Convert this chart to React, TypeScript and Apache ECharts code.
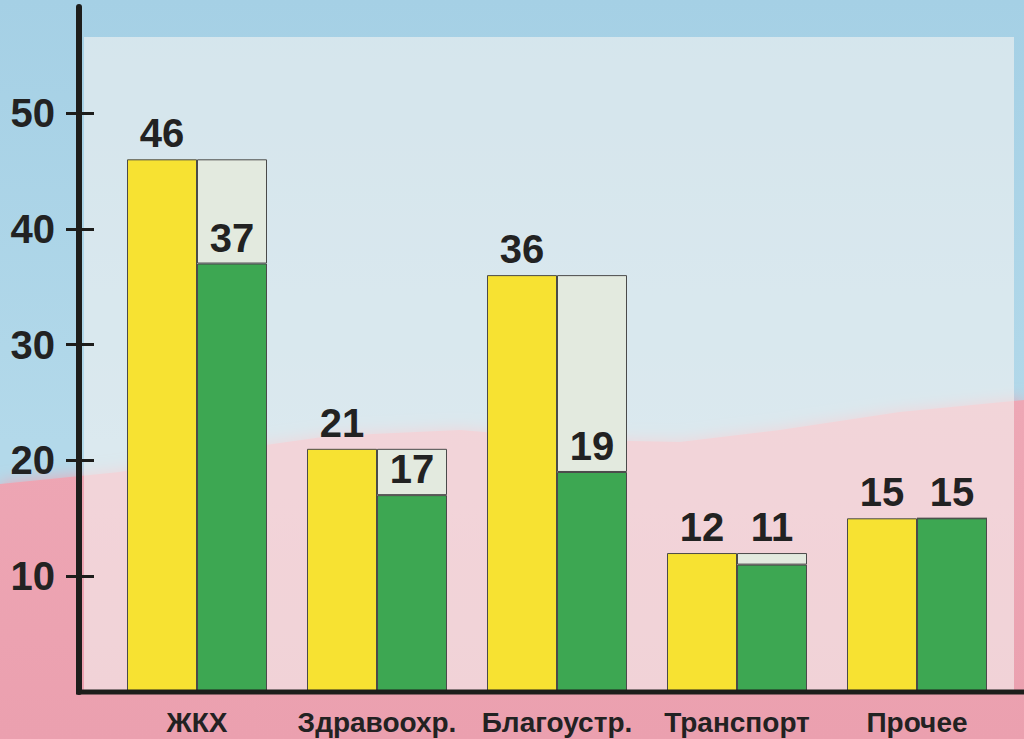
import React, { useEffect, useRef } from "react";
import * as echarts from "echarts";

const categories = ["ЖКХ", "Здравоохр.", "Благоустр.", "Транспорт", "Прочее"];
const planValues = [46, 21, 36, 12, 15];
const actualValues = [37, 17, 19, 11, 15];
const yTickValues = [10, 20, 30, 40, 50];

const FONT = "'Liberation Sans', Arial, sans-serif";
const TEXT = "#222222";
const AXIS = "#1d1d1b";

export default function App() {
  const ref = useRef<HTMLDivElement>(null);

  useEffect(() => {
    if (!ref.current) return;
    const chart = echarts.init(ref.current, undefined, { renderer: "svg" });

    const gridTop = 7;
    const gridBottom = 47;
    const plotH = 739 - gridTop - gridBottom;
    const pxPerUnit = 11.58;
    const yMax = plotH / pxPerUnit;
    const baseDist = 6;

    const restValues = planValues.map((p, i) => p - actualValues[i]);

    const valueLabel = {
      show: true,
      position: "top",
      distance: baseDist,
      color: TEXT,
      fontFamily: FONT,
      fontWeight: "bold",
      fontSize: 40,
    };

    const borderStyle = { borderColor: "#4a4a4a", borderWidth: 1 };

    const option: any = {
      animation: false,
      graphic: [
        {
          type: "rect",
          z: -20,
          silent: true,
          shape: { x: 0, y: 0, width: 1024, height: 739 },
          style: {
            fill: new echarts.graphic.LinearGradient(0, 0, 0, 1, [
              { offset: 0, color: "#a5d0e5" },
              { offset: 0.6, color: "#b3d9ea" },
              { offset: 1, color: "#b3d9ea" },
            ]),
          },
        },
        {
          type: "polygon",
          z: -19,
          silent: true,
          shape: {
            points: [
              [0, 484], [120, 472], [230, 450], [330, 436], [460, 430],
              [580, 440], [680, 442], [780, 430], [900, 412], [1024, 400],
              [1024, 739], [0, 739],
            ],
          },
          style: {
            fill: new echarts.graphic.LinearGradient(0, 0, 0, 1, [
              { offset: 0, color: "#eea7b5" },
              { offset: 1, color: "#eba0af" },
            ]),
            shadowBlur: 16,
            shadowColor: "#eea7b5",
          },
        },
        {
          type: "rect",
          z: -18,
          silent: true,
          shape: { x: 84, y: 37, width: 930, height: 655 },
          style: { fill: "rgba(245,244,241,0.6)" },
        },
        {
          type: "line",
          z: 50,
          silent: true,
          shape: { x1: 76, y1: 692, x2: 1024, y2: 692 },
          style: { stroke: AXIS, lineWidth: 5 },
        },
      ],
      grid: { left: 107, right: 17, top: gridTop, bottom: gridBottom },
      xAxis: {
        type: "category",
        data: categories,
        axisLine: { show: false },
        axisTick: { show: false },
        axisLabel: {
          interval: 0,
          margin: 16,
          color: TEXT,
          fontFamily: FONT,
          fontWeight: "bold",
          fontSize: 28,
        },
      },
      yAxis: [
        {
          type: "value",
          position: "left",
          min: 0,
          max: yMax,
          offset: 28,
          splitLine: { show: false },
          axisLine: { show: true, lineStyle: { color: AXIS, width: 6 } },
          axisTick: {
            show: true,
            inside: false,
            length: 13,
            lineStyle: { color: AXIS, width: 3 },
            customValues: yTickValues,
          },
          axisLabel: {
            margin: 24,
            color: TEXT,
            fontFamily: FONT,
            fontWeight: "bold",
            fontSize: 40,
            customValues: yTickValues,
          },
        },
        {
          type: "value",
          position: "left",
          min: 0,
          max: yMax,
          offset: 28,
          splitLine: { show: false },
          axisLine: { show: false },
          axisLabel: { show: false },
          axisTick: {
            show: true,
            inside: true,
            length: 15,
            lineStyle: { color: AXIS, width: 3 },
            customValues: yTickValues,
          },
        },
      ],
      series: [
        {
          type: "bar",
          name: "plan",
          data: planValues,
          barWidth: 70,
          barGap: "0%",
          z: 2,
          itemStyle: { color: "#f7e232", ...borderStyle },
          label: valueLabel,
        },
        {
          type: "bar",
          name: "actual",
          stack: "b",
          barWidth: 70,
          barGap: "0%",
          z: 3,
          data: actualValues.map((v, i) => {
            const restPx = restValues[i] * pxPerUnit;
            const dist = restValues[i] > 0 && restPx < 30 ? restPx + baseDist : baseDist;
            return { value: v, label: { distance: dist } };
          }),
          itemStyle: { color: "#3da752", ...borderStyle },
          label: valueLabel,
        },
        {
          type: "bar",
          name: "rest",
          stack: "b",
          barWidth: 70,
          barGap: "0%",
          z: 2,
          data: restValues,
          itemStyle: { color: "#e3eadf", ...borderStyle },
          label: { show: false },
        },
      ],
    };

    chart.setOption(option);
    return () => chart.dispose();
  }, []);

  return (
    <div
      ref={ref}
      style={{ position: "absolute", left: 0, top: 0, width: 1024, height: 739 }}
    />
  );
}
